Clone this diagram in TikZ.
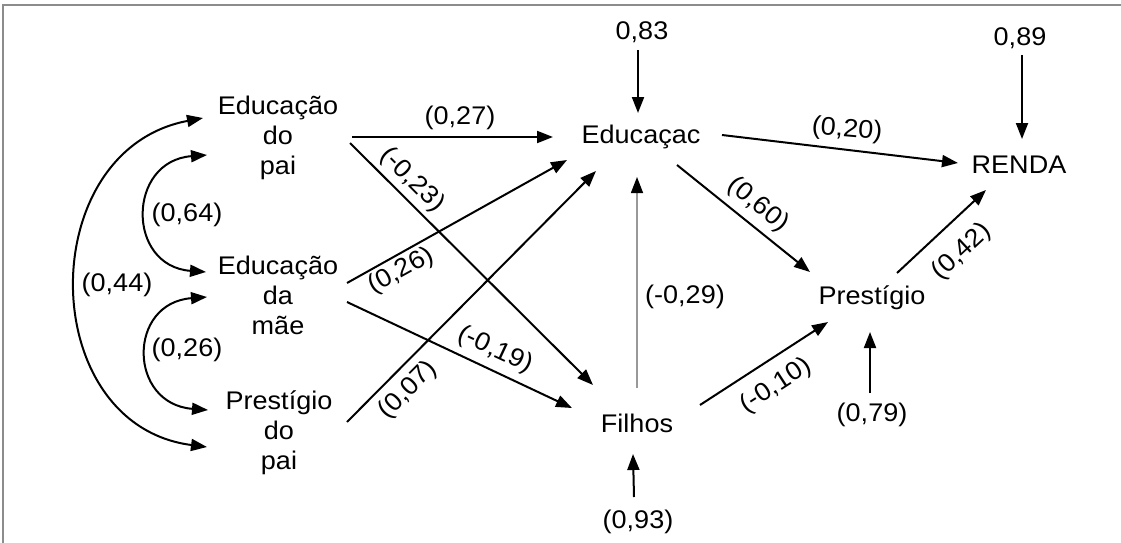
\documentclass[tikz,border=0pt]{standalone}
\usepackage{fontspec}
\setmainfont{Liberation Sans}[FakeStretch=1.06]
\usetikzlibrary{arrows.meta,calc}
\begin{document}
\begin{tikzpicture}[x=1pt,y=-1pt,
  every node/.style={font=\fontsize{25.5}{30}\selectfont, inner sep=0pt, align=center},
  var/.style={},
  lbl/.style={},
  arr/.style={line width=2pt, -{Triangle[length=16pt,width=12pt]}},
  garr/.style={line width=1.4pt, draw=black!40, -{Triangle[length=16pt,width=12pt,color=black]}},
  biarr/.style={line width=2pt, {Triangle[length=16pt,width=12pt]}-{Triangle[length=16pt,width=12pt]}},
  frame/.style={draw=black!45, line width=2pt}]
\useasboundingbox (0,0) rectangle (1121,543);
\draw[frame] (3,543) -- (3,5) -- (1121,5);
% variables
\node[var] (edpai) at (278,138) {Educação\\do\\pai};
\node[var] (edmae) at (278,295) {Educação\\da\\mãe};
\node[var] (prpai) at (279,433) {Prestígio\\do\\pai};
\node[var] (educ) at (641,137) {Educaçac};
\node[var] (renda) at (1019,165) {RENDA};
\node[var] (prest) at (872,298) {Prestígio};
\node[var] (filhos) at (637,423) {Filhos};
\node[var] (e83) at (642,32) {0,83};
\node[var] (e89) at (1020,38) {0,89};
\node[var] (e93) at (638,522) {(0,93)};
\node[var] (e79) at (872,415) {(0,79)};
% straight paths
\draw[arr] ($(edpai)+(74,-1)$) -- ($(educ)+(-88,0)$);
\draw[arr] ($(edpai)+(72,5)$) -- ($(filhos)+(-44,-38)$);
\draw[arr] ($(edmae)+(69,-12)$) -- ($(educ)+(-74,23)$);
\draw[arr] ($(edmae)+(69,7)$) -- ($(filhos)+(-65,-15)$);
\draw[arr] ($(prpai)+(68,-11)$) -- ($(educ)+(-45,34)$);
\draw[garr] ($(filhos)+(0,-35)$) -- ($(educ)+(-4,40)$);
\draw[arr] ($(e83)+(-4,18)$) -- ($(educ)+(-3,-24)$);
\draw[arr] ($(educ)+(81,-2)$) -- ($(renda)+(-61,-2)$);
\draw[arr] ($(educ)+(36,28)$) -- ($(prest)+(-62,-26)$);
\draw[arr] ($(prest)+(25,-25)$) -- ($(renda)+(-33,25)$);
\draw[arr] ($(filhos)+(63,-18)$) -- ($(prest)+(-44,24)$);
\draw[arr] ($(e79)+(-2,-22)$) -- ($(prest)+(-2,34)$);
\draw[arr] ($(e89)+(2,17)$) -- ($(renda)+(3,-26)$);
\draw[arr] ($(e93)+(-4,-25)$) -- ($(filhos)+(-4,31)$);
% correlations
\draw[biarr] ($(edpai)+(-71,17)$) .. controls +(-80,6) and +(-80,-6) .. ($(edmae)+(-72,-23)$);
\draw[biarr] ($(edmae)+(-71,2)$) .. controls +(-80,6) and +(-80,-6) .. ($(prpai)+(-71,-23)$);
\draw[biarr] ($(edpai)+(-75,-20)$) .. controls +(-170,32) and +(-172,-22) .. ($(prpai)+(-72,14)$);
% labels
\node[lbl] (l64) at (187,215) {(0,64)};
\node[lbl] (l26a) at (187,350) {(0,26)};
\node[lbl] (l44) at (117,285) {(0,44)};
\node[lbl] (l27) at (460,118) {(0,27)};
\node[lbl,rotate=-45] (l23) at (412,180) {(-0,23)};
\node[lbl,rotate=29] (l26b) at (401,271) {(0,26)};
\node[lbl,rotate=-25] (l19) at (495,350) {(-0,19)};
\node[lbl,rotate=45] (l07) at (408,390) {(0,07)};
\node[lbl] (l29) at (685,297) {(-0,29)};
\node[lbl,rotate=-5] (l20) at (847,130) {(0,20)};
\node[lbl,rotate=-39] (l60) at (758,205) {(0,60)};
\node[lbl,rotate=43] (l42) at (962,252) {(0,42)};
\node[lbl,rotate=33] (l10) at (776,386) {(-0,10)};
\end{tikzpicture}
\end{document}
